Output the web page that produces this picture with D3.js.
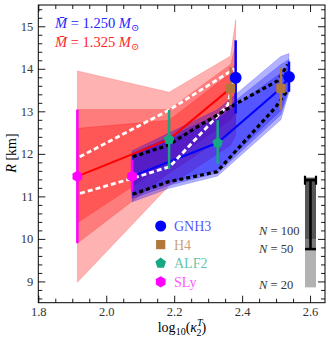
<!DOCTYPE html>
<html><head><meta charset="utf-8">
<script src="https://cdn.jsdelivr.net/npm/d3@7"></script>
<style>body{margin:0;background:#fff}text{font-family:"Liberation Serif","DejaVu Serif",serif}</style>
</head><body>
<script>
// ---- data ----
const eosNames = ["SLy","ALF2","H4","GNH3"];
const eosColors = ["#ff00ff","#16a883","#b3773c","#0000ff"];
const legendOrder = ["GNH3","H4","ALF2","SLy"];
// red series: Mbar = 1.325
const redX   = [1.915, 2.185, 2.366, 2.381];
const redMed = [11.47, 12.34, 13.54, 13.79];
const redErrLo = [9.90, 11.65, 13.15, 12.95];
const redErrHi = [13.04, 13.03, 14.04, 14.67];
const redBandUp = [[13.95,13.45,14.30,15.15],[13.04,13.04,14.10,14.55],[12.60,12.79,13.90,14.15]];
const redBandLo = [[8.98,11.25,12.20,12.44],[9.90,11.55,12.50,12.70],[10.38,11.80,12.80,13.00]];
// blue series: Mbar = 1.250
const blueX   = [2.076, 2.328, 2.514, 2.538];
const blueMed = [11.47, 12.26, 13.54, 13.81];
const blueErrLo = [11.12, 11.77, 13.03, 13.46];
const blueErrHi = [11.85, 12.79, 14.03, 14.17];
const blueBandUp = [[12.07,13.04,14.29,14.36],[12.00,12.92,14.10,14.22],[11.95,12.82,13.90,14.10]];
const blueLoX = [2.076, 2.185, 2.328, 2.514, 2.538];
const blueBandLo = [[10.87,11.19,11.48,12.80,13.45],[10.95,11.26,11.55,12.92,13.50],[11.02,11.33,11.62,13.02,13.55]];
// white dashed (red series bounds)
const whiteUpX = [1.922, 2.185, 2.378];
const whiteUpY = [11.93, 13.03, 14.00];
const whiteLoX = [1.923, 2.076, 2.187, 2.358, 2.379];
const whiteLoY = [11.07, 11.42, 11.70, 13.15, 13.95];
// black dotted (blue series bounds)
const blackUpX = [2.078, 2.182, 2.261, 2.387, 2.505, 2.534];
const blackUpY = [11.93, 12.20, 12.60, 13.20, 13.72, 14.10];
const blackLoX = [2.078, 2.182, 2.326, 2.499, 2.534];
const blackLoY = [11.05, 11.34, 11.58, 13.10, 13.50];
// N legend
const nLabels = ["N = 20","N = 50","N = 100"];
const nBottom = [8.86, 9.74, 10.0];
const nTop = 11.44;
const nBarLo = 9.76, nBarHi = 11.38;
const xTicks = [1.8, 2.0, 2.2, 2.4, 2.6];
const yTicks = [9, 10, 11, 12, 13, 14, 15];

// ---- layout ----
const W = 332, H = 343;
const x = d3.scaleLinear([1.8, 2.644], [38.3, 325]);
const y = d3.scaleLinear([8.5, 15.5], [302.7, 5]);
const svg = d3.select("body").append("svg").attr("width", W).attr("height", H);
const plot = svg.append("g");
const line = d3.line();

function band(ux, uy, lx, ly) {
  const pts = ux.map((v,i)=>[x(v), y(uy[i])]).concat(lx.map((v,i)=>[x(v), y(ly[i])]).reverse());
  return line(pts) + "Z";
}
// bands
redBandUp.forEach((u,k)=>{
  plot.append("path").attr("d", band(redX, u, redX, redBandLo[k]))
    .attr("fill","#ff0000").attr("fill-opacity",0.3)
    .attr("stroke","#ff0000").attr("stroke-opacity",0.3).attr("stroke-width",0.6);
});
blueBandUp.forEach((u,k)=>{
  plot.append("path").attr("d", band(blueX, u, blueLoX, blueBandLo[k]))
    .attr("fill","#0000ff").attr("fill-opacity",0.3)
    .attr("stroke","#0000ff").attr("stroke-opacity",0.3).attr("stroke-width",0.6);
});
// median lines
plot.append("path").attr("d", line(redX.map((v,i)=>[x(v), y(redMed[i])])))
  .attr("fill","none").attr("stroke","#ff0000").attr("stroke-width",2);
plot.append("path").attr("d", line(blueX.map((v,i)=>[x(v), y(blueMed[i])])))
  .attr("fill","none").attr("stroke","#0000ff").attr("stroke-width",2);
// dashed bounds
[[whiteUpX,whiteUpY],[whiteLoX,whiteLoY]].forEach(([xs,ys])=>{
  plot.append("path").attr("d", line(xs.map((v,i)=>[x(v), y(ys[i])])))
    .attr("fill","none").attr("stroke","#fff").attr("stroke-width",2.8).attr("stroke-dasharray","5,3");
});
[[blackUpX,blackUpY],[blackLoX,blackLoY]].forEach(([xs,ys])=>{
  plot.append("path").attr("d", line(xs.map((v,i)=>[x(v), y(ys[i])])))
    .attr("fill","none").attr("stroke","#000").attr("stroke-width",3.2).attr("stroke-dasharray","4,3");
});
// error bars
function errbars(xs, lo, hi) {
  xs.forEach((v,i)=>{
    plot.append("line").attr("x1",x(v)).attr("x2",x(v)).attr("y1",y(lo[i])).attr("y2",y(hi[i]))
      .attr("stroke",eosColors[i]).attr("stroke-width",2.5);
  });
}
errbars(redX, redErrLo, redErrHi);
errbars(blueX, blueErrLo, blueErrHi);

// markers
function poly(n, r, rot) {
  const p = [];
  for (let k=0;k<n;k++){ const a = rot + 2*Math.PI*k/n; p.push([r*Math.sin(a), -r*Math.cos(a)]); }
  return line(p)+"Z";
}
const shapes = {
  "SLy":  poly(6, 5.6, 0),
  "ALF2": poly(5, 5.6, 0),
  "H4":   d3.symbol(d3.symbolSquare, 85)(),
  "GNH3": d3.symbol(d3.symbolCircle, 110)()
};
function markers(xs, ys) {
  xs.forEach((v,i)=>{
    plot.append("path").attr("d", shapes[eosNames[i]])
      .attr("transform",`translate(${x(v)},${y(ys[i])})`).attr("fill",eosColors[i]);
  });
}
markers(redX, redMed);
markers(blueX, blueMed);

// ---- axes ----
const ax = svg.append("g");
const minorX = d3.range(1.8, 2.6451, 0.05).map(v=>+v.toFixed(2)).filter(v=>!xTicks.some(t=>Math.abs(t-v)<1e-6));
const minorY = d3.range(8.6, 15.5, 0.2).map(v=>+v.toFixed(1)).filter(v=>!yTicks.some(t=>Math.abs(t-v)<1e-6));
function axisSet(gen, scale, ticks, minor, pos, labels, pad) {
  const g = ax.append("g").attr("transform", pos);
  g.call(gen(scale).tickValues(ticks).tickSizeInner(-7).tickSizeOuter(0).tickPadding(pad)
    .tickFormat(labels ? (gen===d3.axisBottom ? d3.format(".1f") : d3.format("d")) : ""));
  g.append("g").call(gen(scale).tickValues(minor).tickSizeInner(-4).tickSizeOuter(0).tickFormat(""))
    .select(".domain").remove();
  g.selectAll(".domain").remove();
  g.selectAll("line").attr("stroke","#000").attr("stroke-width",0.9);
  g.selectAll("text").attr("font-size",12.5).attr("fill","#333").attr("font-family","Liberation Serif, serif");
  return g;
}
axisSet(d3.axisBottom, x, xTicks, minorX, `translate(0,${y(8.5)})`, true, 4);
axisSet(d3.axisLeft, y, yTicks, minorY, `translate(${x(1.8)},0)`, true, 5);
axisSet(d3.axisTop, x, xTicks, minorX, `translate(0,${y(15.5)})`, false, 0);
axisSet(d3.axisRight, y, yTicks, minorY, `translate(${x(2.644)},0)`, false, 0);
ax.append("rect").attr("x",x(1.8)).attr("y",y(15.5)).attr("width",x(2.644)-x(1.8)).attr("height",y(8.5)-y(15.5))
  .attr("fill","none").attr("stroke","#000").attr("stroke-width",1);

// axis labels
const yl = svg.append("text").attr("transform",`translate(16,153) rotate(-90)`).attr("text-anchor","middle")
  .attr("font-size",14).attr("fill","#000");
yl.append("tspan").attr("font-style","italic").text("R");
yl.append("tspan").text(" [km]");
const xl = svg.append("text").attr("x",182).attr("y",332).attr("text-anchor","middle").attr("font-size",14).attr("fill","#000");
xl.append("tspan").text("log");
xl.append("tspan").attr("font-size",10).attr("dy",3).text("10");
xl.append("tspan").attr("dy",-3).text("(");
xl.append("tspan").attr("font-style","italic").text("κ");
xl.append("tspan").attr("font-size",10).attr("dy",-6).attr("font-style","italic").text("T");
xl.append("tspan").attr("font-size",10).attr("dx",-6).attr("dy",10).text("2");
xl.append("tspan").attr("dy",-4).text(")");

// mass legend
[["1.250","#2424ff",28],["1.325","#ff2424",47]].forEach(([m,c,yy])=>{
  const t = svg.append("text").attr("x",55).attr("y",yy).attr("font-size",14.5).attr("fill",c);
  t.append("tspan").attr("font-style","italic").text("M\u0304");
  t.append("tspan").text(" = " + m + " ");
  t.append("tspan").attr("font-style","italic").text("M");
  t.append("tspan").attr("font-size",10).attr("dy",3).text("\u2299");
});

// EOS legend
legendOrder.forEach((name,k)=>{
  const i = eosNames.indexOf(name);
  const yy = 226 + k*18.6;
  svg.append("path").attr("d", name==="GNH3" ? d3.symbol(d3.symbolCircle, 95)() : shapes[name])
    .attr("transform",`translate(160.7,${yy})`).attr("fill",eosColors[i]);
  svg.append("text").attr("x",174).attr("y",yy+5).attr("font-size",14).attr("fill",eosColors[i])
    .attr("fill-opacity",0.7).text(name);
});

// N legend
const nx0 = 305, nx1 = 316;
nBottom.forEach((b,k)=>{
  svg.append("rect").attr("x",nx0).attr("width",nx1-nx0).attr("y",y(nTop)).attr("height",y(b)-y(nTop))
    .attr("fill","#000").attr("fill-opacity",0.3);
});
const bx = (nx0+nx1)/2;
svg.append("line").attr("x1",bx).attr("x2",bx).attr("y1",y(nBarHi)).attr("y2",y(nBarLo)).attr("stroke","#000").attr("stroke-width",2.5);
svg.append("line").attr("x1",nx0-1).attr("x2",nx1+1).attr("y1",y(nBarHi)).attr("y2",y(nBarHi)).attr("stroke","#000").attr("stroke-width",2.5);
svg.append("line").attr("x1",nx0).attr("x2",nx1).attr("y1",y(nBarLo)).attr("y2",y(nBarLo)).attr("stroke","#000").attr("stroke-width",2.5);
[nx0, nx1].forEach(cx=>{
  svg.append("line").attr("x1",cx).attr("x2",cx).attr("y1",y(nBarHi)-4.5).attr("y2",y(nBarHi)+4.5).attr("stroke","#000").attr("stroke-width",2.2);
});
const nLabelY = [289, 253, 235];
nLabels.forEach((lab,k)=>{
  const t = svg.append("text").attr("x",259).attr("y",nLabelY[k]).attr("font-size",12.5).attr("fill","#333");
  t.append("tspan").attr("font-style","italic").text("N");
  t.append("tspan").text(lab.slice(1));
});
</script>
</body></html>
